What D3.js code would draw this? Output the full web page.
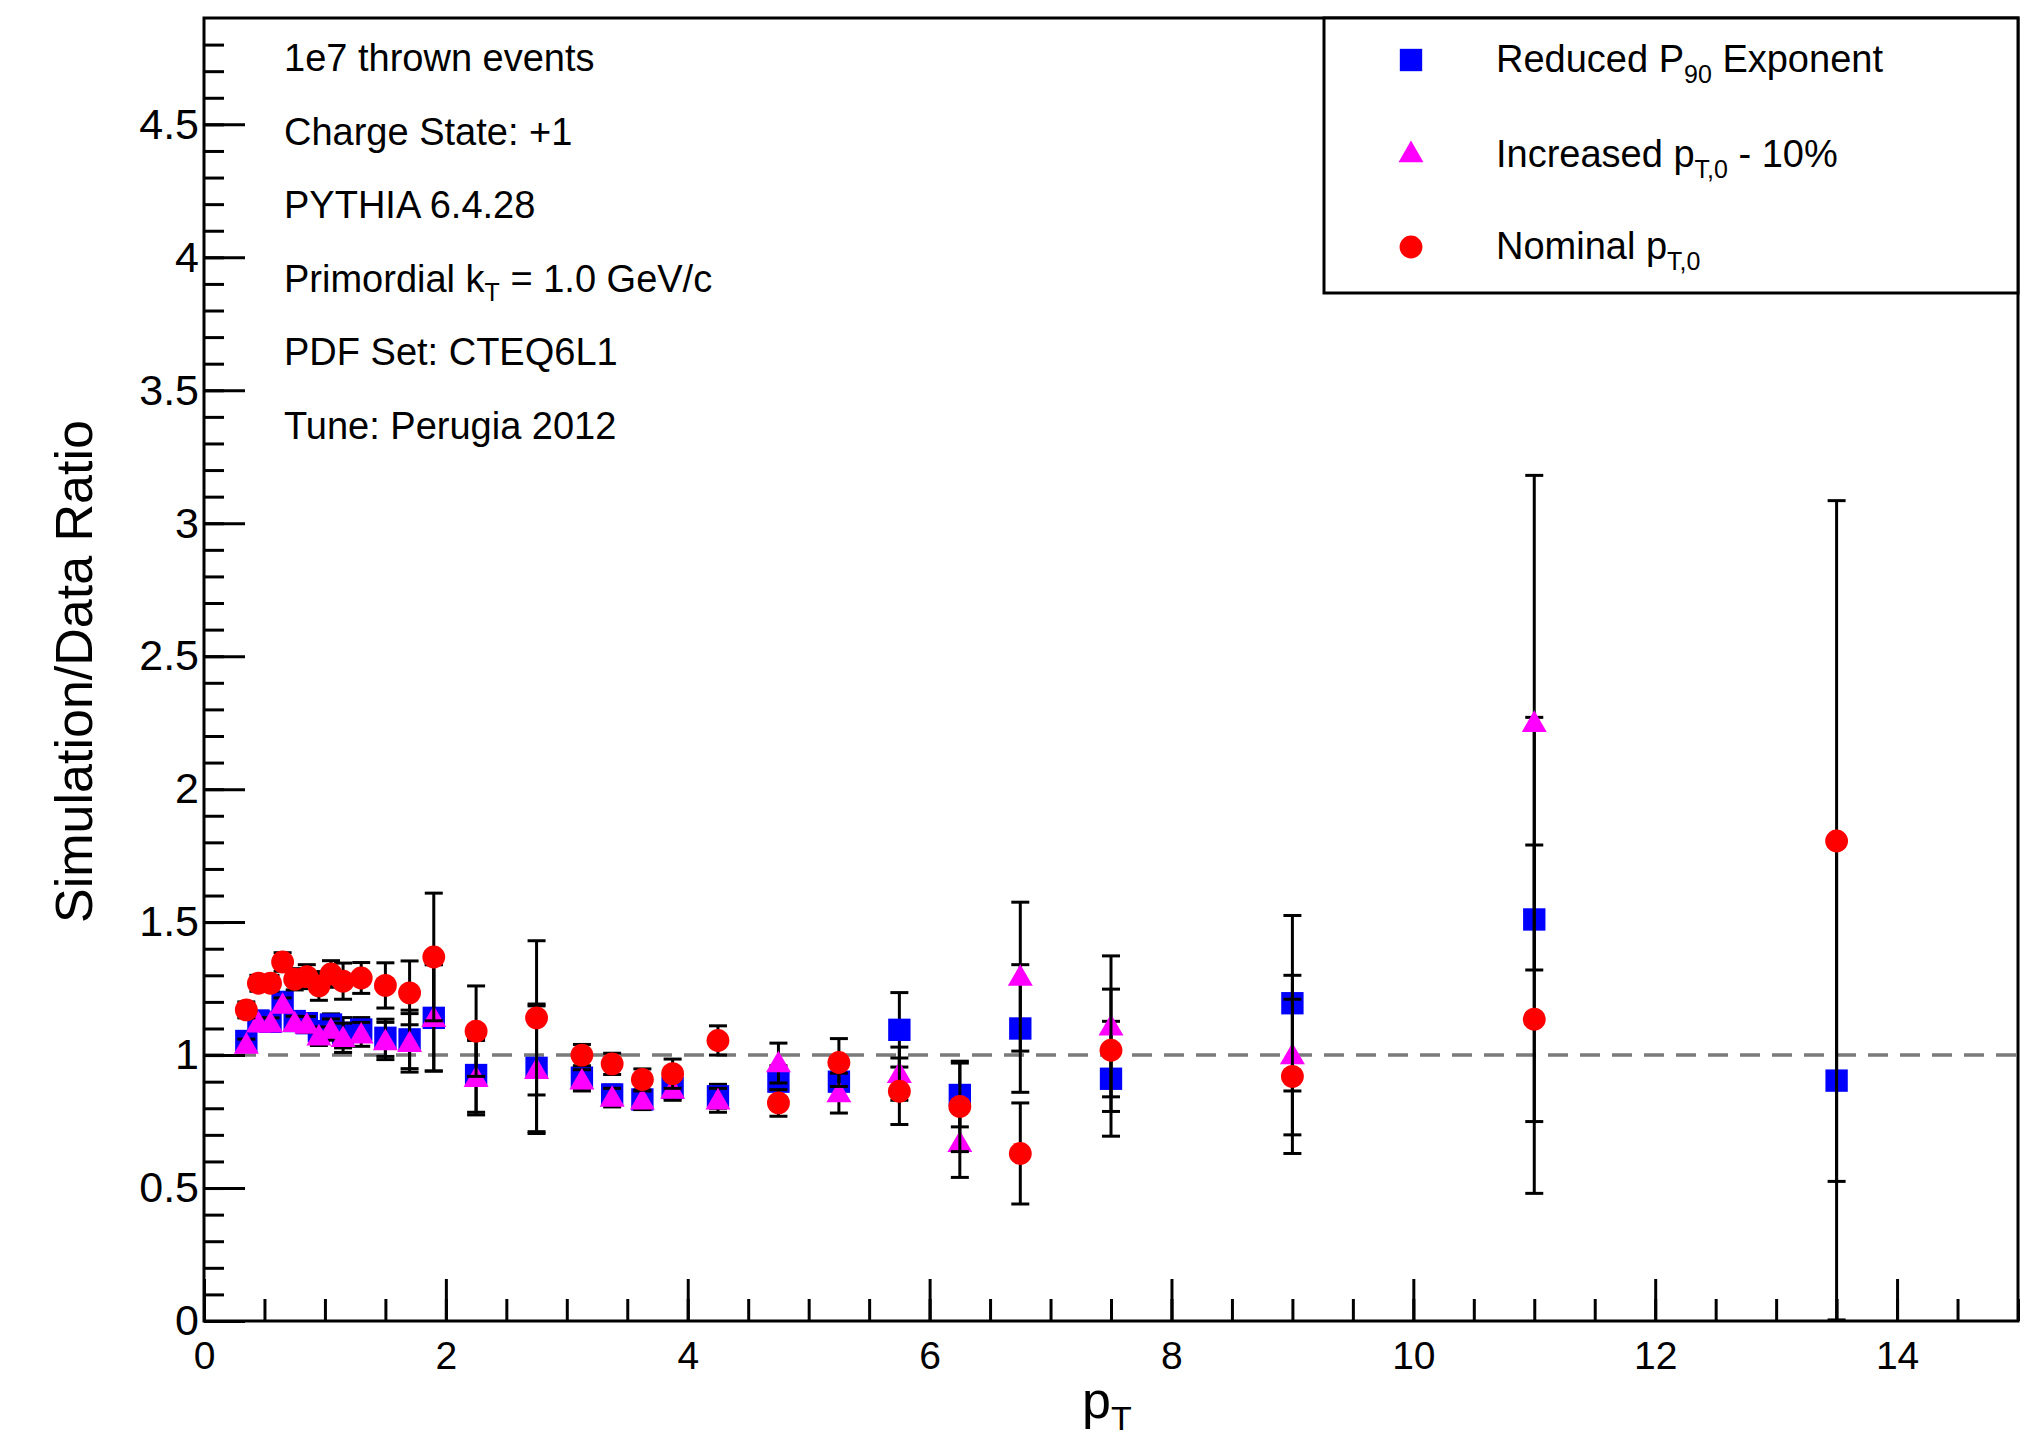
<!DOCTYPE html>
<html lang="en">
<head>
<meta charset="utf-8">
<title>Simulation/Data Ratio</title>
<script src="https://d3js.org/d3.v7.min.js"></script>
<style>
  body { margin: 0; background: #fff; }
  svg text { font-family: "Liberation Sans", Arial, Helvetica, sans-serif; fill: #000; }
</style>
</head>
<body>
<div id="chart"></div>
<script>

// bin centres in pT
var ptBins = [0.35, 0.45, 0.55, 0.65, 0.75, 0.85, 0.95, 1.05, 1.15, 1.3, 1.5, 1.7, 1.9,
              2.25, 2.75, 3.125, 3.375, 3.625, 3.875, 4.25, 4.75, 5.25, 5.75, 6.25, 6.75,
              7.5, 9, 11, 13.5];

// Reduced P90 exponent (blue squares)
var reducedVals = [1.053, 1.13, 1.125, 1.2, 1.128, 1.12, 1.09, 1.115, 1.084, 1.096, 1.065, 1.059, 1.14,
                   0.925, 0.952, 0.915, 0.852, 0.833, 0.877, 0.845, 0.90, 0.90, 1.095, 0.85, 1.10,
                   0.911, 1.195, 1.51, 0.904];
var reducedErrs = [0.02, 0.02, 0.02, 0.025, 0.025, 0.03, 0.035, 0.04, 0.057, 0.045, 0.07, 0.11, 0.2,
                   0.14, 0.24, 0.04, 0.035, 0.035, 0.04, 0.045, 0.06, 0.07, 0.14, 0.12, 0.24,
                   0.216, 0.33, 0.76, 0.9];

// Increased pT,0 - 10% (magenta triangles)
var increasedVals = [1.04, 1.12, 1.12, 1.19, 1.121, 1.115, 1.071, 1.096, 1.065, 1.078, 1.053, 1.046, 1.14,
                     0.915, 0.945, 0.905, 0.84, 0.83, 0.87, 0.83, 0.97, 0.857, 0.93, 0.67, 1.295,
                     1.108, 1.0, 2.25, null];
var increasedErrs = [0.02, 0.02, 0.02, 0.025, 0.025, 0.03, 0.035, 0.04, 0.055, 0.045, 0.07, 0.11, 0.2,
                     0.14, 0.24, 0.04, 0.035, 0.035, 0.04, 0.045, 0.075, 0.075, 0.1, 0.13, 0.28,
                     0.265, 0.3, 0.93, null];

// Nominal pT,0 (red circles)
var nominalVals = [1.17, 1.27, 1.27, 1.35, 1.285, 1.295, 1.26, 1.305, 1.278, 1.29, 1.262, 1.234, 1.369,
                   1.09, 1.14, 1.0, 0.967, 0.908, 0.93, 1.055, 0.82, 0.972, 0.864, 0.807, 0.63,
                   1.018, 0.92, 1.135, 1.805];
var nominalErrs = [0.03, 0.03, 0.03, 0.035, 0.04, 0.045, 0.054, 0.05, 0.068, 0.058, 0.085, 0.12, 0.24,
                   0.17, 0.29, 0.04, 0.04, 0.04, 0.055, 0.055, 0.05, 0.09, 0.125, 0.17, 0.19,
                   0.23, 0.29, 0.655, 1.28];

var xMajor = [0, 2, 4, 6, 8, 10, 12, 14];
var yMajor = [0, 0.5, 1, 1.5, 2, 2.5, 3, 3.5, 4, 4.5];

var infoLines = ["1e7 thrown events", "Charge State: +1", "PYTHIA 6.4.28",
                 ["Primordial k", "T", " = 1.0 GeV/c"], "PDF Set: CTEQ6L1", "Tune: Perugia 2012"];

var series = [
  {vals: reducedVals, errs: reducedErrs, color: "#0000ff", shape: "square",
   label: ["Reduced P", "90", " Exponent"]},
  {vals: increasedVals, errs: increasedErrs, color: "#ff00ff", shape: "triangle",
   label: ["Increased p", "T,0", " - 10%"]},
  {vals: nominalVals, errs: nominalErrs, color: "#ff0000", shape: "circle",
   label: ["Nominal p", "T,0", ""]}
];

var W = 2025, H = 1447;
var frame = {left: 204, right: 2018, top: 18, bottom: 1321};

var x = d3.scaleLinear().domain([0, 15]).range([frame.left, frame.right]);
var y = d3.scaleLinear().domain([0, 4.9]).range([frame.bottom, frame.top]);

var svg = d3.select("#chart").append("svg")
    .attr("width", W)
    .attr("height", H);

svg.append("rect").attr("width", W).attr("height", H).attr("fill", "#fff");

svg.append("defs").append("clipPath").attr("id", "plotclip")
  .append("rect")
    .attr("x", frame.left).attr("y", frame.top)
    .attr("width", frame.right - frame.left).attr("height", frame.bottom - frame.top);

// marker shapes
var symbols = {
  square: d3.symbol().type(d3.symbolSquare).size(500),
  triangle: d3.symbol().type(d3.symbolTriangle).size(270),
  circle: d3.symbol().type(d3.symbolCircle).size(410)
};

// reference line at ratio = 1
svg.append("line")
    .attr("x1", x(0)).attr("x2", x(15))
    .attr("y1", y(1)).attr("y2", y(1))
    .attr("stroke", "#7a7a7a")
    .attr("stroke-width", 3.5)
    .attr("stroke-dasharray", "20,12");

var plot = svg.append("g").attr("clip-path", "url(#plotclip)");

series.forEach(function(s) {
  var pts = ptBins.map(function(p, i) { return {x: p, v: s.vals[i], e: s.errs[i]}; })
                  .filter(function(d) { return d.v !== null; });
  var g = plot.append("g");

  g.selectAll(".bar").data(pts).enter().append("line")
      .attr("x1", function(d) { return x(d.x); })
      .attr("x2", function(d) { return x(d.x); })
      .attr("y1", function(d) { return y(d.v - d.e); })
      .attr("y2", function(d) { return y(d.v + d.e); })
      .attr("stroke", "#000").attr("stroke-width", 3);

  [-1, 1].forEach(function(sign) {
    g.selectAll(".cap" + sign).data(pts).enter().append("line")
        .attr("x1", function(d) { return x(d.x) - 9; })
        .attr("x2", function(d) { return x(d.x) + 9; })
        .attr("y1", function(d) { return y(d.v + sign * d.e); })
        .attr("y2", function(d) { return y(d.v + sign * d.e); })
        .attr("stroke", "#000").attr("stroke-width", 3);
  });

  g.selectAll(".marker").data(pts).enter().append("path")
      .attr("d", symbols[s.shape])
      .attr("transform", function(d) {
        var dy = s.shape === "triangle" ? 2 : 0;
        return "translate(" + x(d.x) + "," + (y(d.v) + dy) + ")";
      })
      .attr("fill", s.color);
});

// axes, ticks pointing inside the frame
function styleAxis(g, size) {
  g.select(".domain").remove();
  g.selectAll(".tick line").attr("stroke", "#000").attr("stroke-width", 3);
  g.attr("font-size", size).attr("font-family", null);
}

svg.append("g")
    .attr("transform", "translate(0," + frame.bottom + ")")
    .call(d3.axisBottom(x).tickValues(d3.range(0, 15.01, 0.5)).tickSize(-22).tickFormat(""))
    .call(styleAxis, 39);

svg.append("g")
    .attr("transform", "translate(0," + frame.bottom + ")")
    .call(d3.axisBottom(x).tickValues(xMajor).tickSize(-42).tickPadding(20).tickFormat(d3.format("d")))
    .call(styleAxis, 39);

svg.append("g")
    .attr("transform", "translate(" + frame.left + ",0)")
    .call(d3.axisLeft(y).tickValues(d3.range(0, 4.85, 0.1)).tickSize(-20).tickFormat(""))
    .call(styleAxis, 43);

svg.append("g")
    .attr("transform", "translate(" + frame.left + ",0)")
    .call(d3.axisLeft(y).tickValues(yMajor).tickSize(-41).tickPadding(5).tickFormat(d3.format("")))
    .call(styleAxis, 43);

// frame
svg.append("rect")
    .attr("x", frame.left).attr("y", frame.top)
    .attr("width", frame.right - frame.left).attr("height", frame.bottom - frame.top)
    .attr("fill", "none").attr("stroke", "#000").attr("stroke-width", 3);

// axis titles
svg.append("text")
    .attr("transform", "translate(92," + ((frame.top + frame.bottom) / 2 + 2) + ")rotate(-90)")
    .attr("text-anchor", "middle")
    .attr("font-size", 52)
    .text("Simulation/Data Ratio");

var xt = svg.append("text").attr("x", 1082).attr("y", 1418).attr("font-size", 52);
xt.append("tspan").text("p");
xt.append("tspan").attr("font-size", 34).attr("dy", 12).text("T");

// info text block
infoLines.forEach(function(line, i) {
  var t = svg.append("text")
      .attr("x", 284)
      .attr("y", 71 + i * 73.6)
      .attr("font-size", 38);
  if (typeof line === "string") {
    t.text(line);
  } else {
    t.append("tspan").text(line[0]);
    t.append("tspan").attr("font-size", 25).attr("dy", 9).text(line[1]);
    t.append("tspan").attr("dy", -9).text(line[2]);
  }
});

// legend
var legendTop = 18, legendLeft = 1324;
svg.append("rect")
    .attr("x", legendLeft).attr("y", legendTop)
    .attr("width", frame.right - legendLeft).attr("height", 293 - legendTop)
    .attr("fill", "#fff").attr("stroke", "#000").attr("stroke-width", 3);

var legendRows = [60, 155, 247];
series.forEach(function(s, i) {
  svg.append("path")
      .attr("d", symbols[s.shape])
      .attr("transform", "translate(1411," + legendRows[i] + ")")
      .attr("fill", s.color);
  var t = svg.append("text")
      .attr("x", 1496)
      .attr("y", legendRows[i] + 12)
      .attr("font-size", 38);
  t.append("tspan").text(s.label[0]);
  t.append("tspan").attr("font-size", 25).attr("dy", 11).text(s.label[1]);
  t.append("tspan").attr("dy", -11).text(s.label[2]);
});

</script>
</body>
</html>
